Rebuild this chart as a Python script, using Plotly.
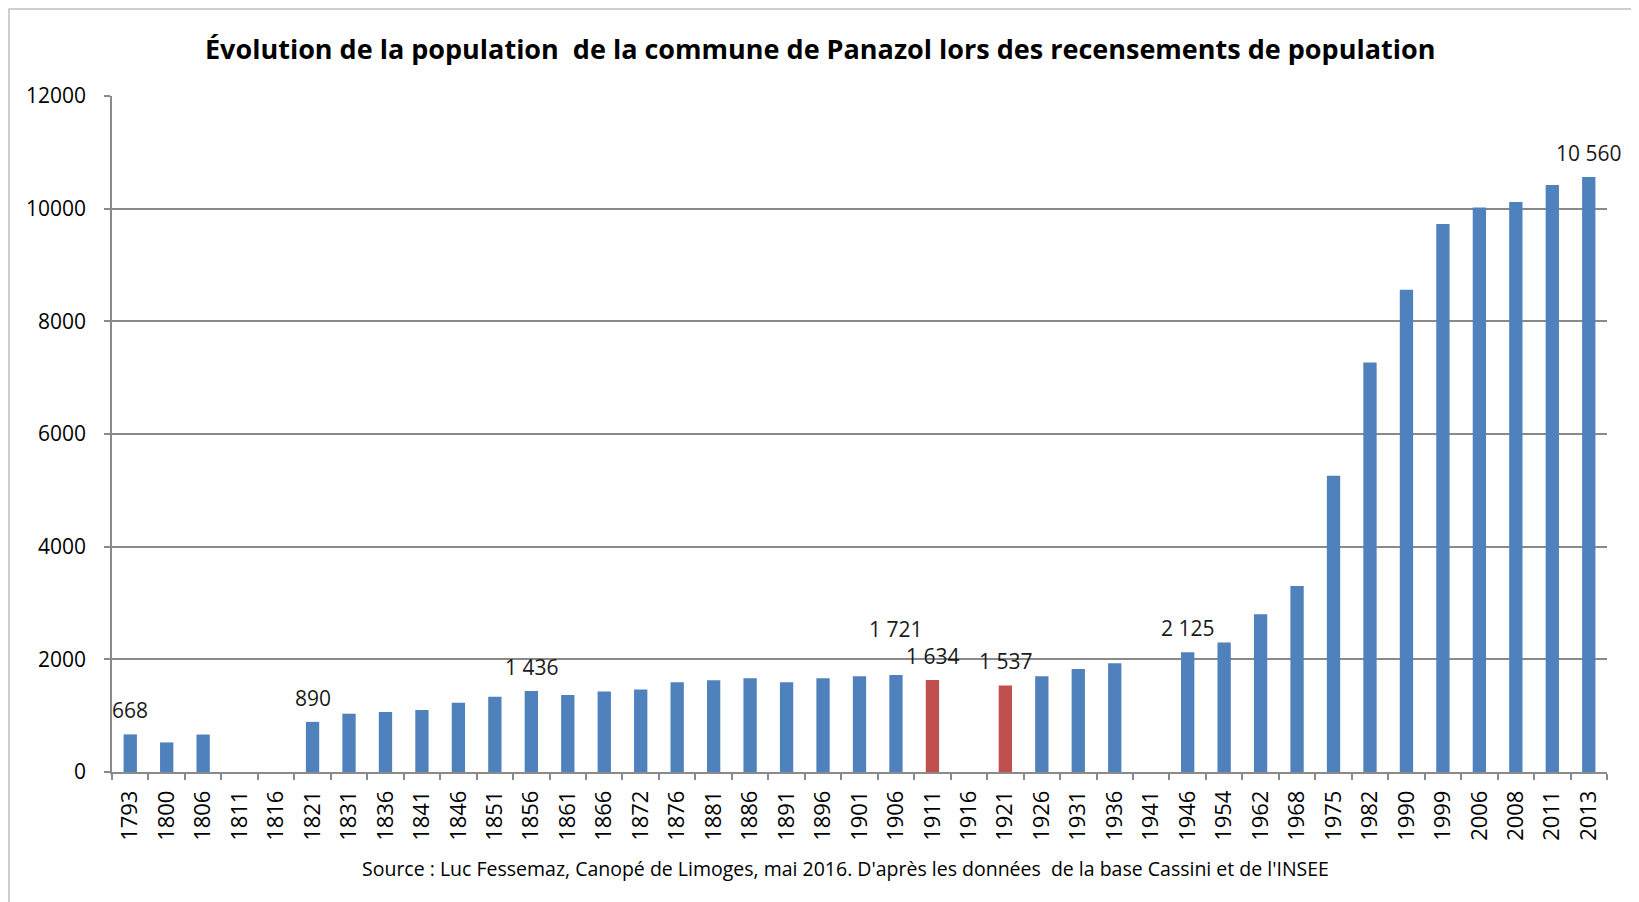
import plotly.graph_objects as go

years = ["1793", "1800", "1806", "1811", "1816", "1821", "1831", "1836", "1841", "1846",
         "1851", "1856", "1861", "1866", "1872", "1876", "1881", "1886", "1891", "1896",
         "1901", "1906", "1911", "1916", "1921", "1926", "1931", "1936", "1941", "1946",
         "1954", "1962", "1968", "1975", "1982", "1990", "1999", "2006", "2008", "2011", "2013"]
population = [668, 525, 665, None, None, 890, 1035, 1065, 1100, 1230,
              1335, 1436, 1365, 1430, 1465, 1595, 1630, 1665, 1595, 1665,
              1700, 1721, 1634, None, 1537, 1700, 1830, 1930, None, 2125,
              2300, 2800, 3300, 5260, 7270, 8560, 9730, 10020, 10120, 10420, 10560]
highlighted_years = ["1911", "1921"]
labeled_years = ["1793", "1821", "1856", "1906", "1911", "1921", "1946", "2013"]

title = "Évolution de la population  de la commune de Panazol lors des recensements de population"
source = "Source : Luc Fessemaz, Canopé de Limoges, mai 2016. D'après les données  de la base Cassini et de l'INSEE"

BLUE = "#4F81BD"
RED = "#C0504D"
GRID = "#8a8a8a"
colors = [RED if y in highlighted_years else BLUE for y in years]

# page body has an 8px margin: size the figure so it fills the rest of the window
OFF = 8
W, H = 1639 - OFF, 902 - OFF
ML, MT = 112 - OFF, 96 - OFF
MR = W - (1607 - OFF)
MB = H - (772 - OFF)

fig = go.Figure()
fig.add_trace(go.Bar(x=years, y=population, marker=dict(color=colors, line=dict(width=0)),
                     hoverinfo="x+y"))

def fmt(v):
    return f"{v:,}".replace(",", " ")

label_shift = {"1906": 22}
for y in labeled_years:
    i = years.index(y)
    v = population[i]
    fig.add_annotation(x=i, y=v, xref="x", yref="y", text=fmt(v), showarrow=False,
                       yanchor="bottom", yshift=8 + label_shift.get(y, 0),
                       font=dict(family="Open Sans", size=21, color="#1a1a1a"))

pw = W - ML - MR
ph = H - MT - MB
def px(xr):
    return (xr - OFF - ML) / pw
def py(yr):
    return (H - MB - (yr - OFF)) / ph

fig.add_shape(type="rect", xref="paper", yref="paper",
              x0=px(9), x1=px(1635), y0=py(9), y1=py(905),
              line=dict(color="#bfbfbf", width=1.5), fillcolor="rgba(0,0,0,0)", layer="below")

fig.add_annotation(xref="paper", yref="paper", x=px(820), y=py(48), text=f"<b>{title}</b>",
                   showarrow=False, xanchor="center", yanchor="middle",
                   font=dict(family="Open Sans", size=27, color="#000000"))
fig.add_annotation(xref="paper", yref="paper", x=px(845), y=py(869), text=source,
                   showarrow=False, xanchor="center", yanchor="middle",
                   font=dict(family="Open Sans", size=19.5, color="#000000"))

fig.update_layout(
    width=W, height=H,
    margin=dict(l=ML, r=MR, t=MT, b=MB, autoexpand=False),
    paper_bgcolor="white", plot_bgcolor="white",
    bargap=0.635, showlegend=False,
    font=dict(family="Open Sans", color="#000000"),
)
fig.update_xaxes(type="category", range=[-0.5, len(years) - 0.5],
                 showline=True, linecolor=GRID, linewidth=1.5,
                 ticks="outside", tickson="boundaries", ticklen=6, tickcolor=GRID,
                 tickwidth=1.5, tickangle=-90, ticklabelstandoff=8,
                 tickfont=dict(family="Open Sans", size=22, color="#000"),
                 showgrid=False)
fig.update_yaxes(range=[0, 12000], dtick=2000, showline=True, linecolor=GRID, linewidth=1.5,
                 ticks="outside", ticklen=6, tickcolor=GRID, tickwidth=1.5, ticklabelstandoff=14,
                 showgrid=True, gridcolor=GRID, gridwidth=1.5, zeroline=False,
                 tickformat="d", tickfont=dict(family="Open Sans", size=21, color="#000"))

fig.write_html("out.html")
